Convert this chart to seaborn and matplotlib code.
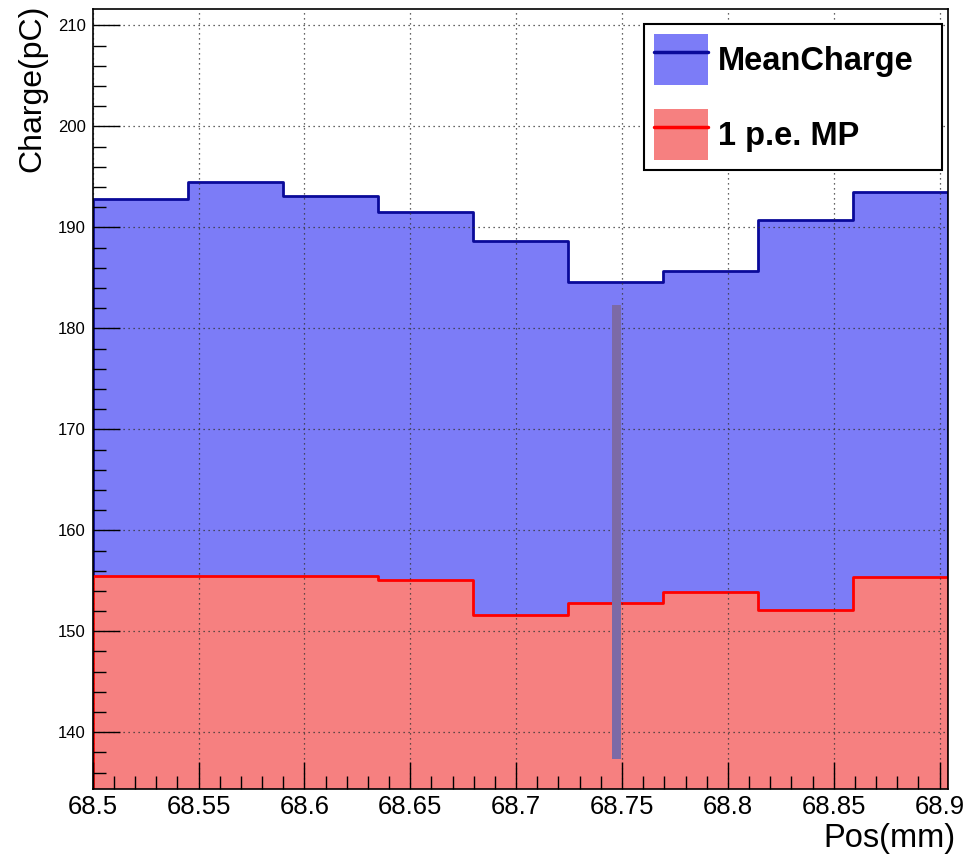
import matplotlib
matplotlib.use("Agg")
import matplotlib.pyplot as plt
import pandas as pd
import seaborn as sns
from matplotlib.patches import Patch
from matplotlib.lines import Line2D
from matplotlib.legend_handler import HandlerTuple
from matplotlib.ticker import MultipleLocator

# Scan positions (bin edges, mm) and per-bin charges (pC)
bin_edges = [68.5, 68.5449, 68.5898, 68.6347, 68.6796, 68.7244,
             68.7693, 68.8142, 68.8591, 68.904]
mean_charge = [192.8, 194.5, 193.15, 191.5, 188.65, 184.6, 185.7, 190.7, 193.5]
pe_mp = [155.5, 155.5, 155.45, 155.1, 151.65, 152.85, 153.85, 152.1, 155.35]

# Vertical marker band
marker_pos = 68.7475
marker_low = 137.4
marker_high = 182.35

series_labels = ["MeanCharge", "1 p.e. MP"]
x_ticks = [68.5, 68.55, 68.6, 68.65, 68.7, 68.75, 68.8, 68.85, 68.9]
x_tick_labels = ["68.5", "68.55", "68.6", "68.65", "68.7", "68.75", "68.8", "68.85", "68.9"]
y_ticks = [140, 150, 160, 170, 180, 190, 200, 210]
x_label = "Pos(mm)"
y_label = "Charge(pC)"

blue_fill = "#7c7cf7"
blue_line = "#0a0a99"
red_fill = "#f68080"
red_line = "#ff0000"
marker_color = "#7c6aa6"

sns.set_theme(style="white")
plt.rcParams["font.family"] = ["Liberation Sans", "DejaVu Sans"]
plt.rcParams["text.color"] = "black"
plt.rcParams["xtick.color"] = "black"
plt.rcParams["ytick.color"] = "black"
plt.rcParams["xtick.labelcolor"] = "black"
plt.rcParams["ytick.labelcolor"] = "black"

centers = [(a + b) / 2 for a, b in zip(bin_edges[:-1], bin_edges[1:])]
df = pd.DataFrame({"pos": centers, "mean": mean_charge, "mp": pe_mp})

fig = plt.figure(figsize=(9.67, 8.58), dpi=100)
ax = fig.add_axes([0.0959, 0.0804, 0.8845, 0.9088])

sns.histplot(data=df, x="pos", weights="mean", bins=bin_edges, element="step",
             fill=True, color=blue_fill, alpha=1, edgecolor=blue_line,
             linewidth=2.0, ax=ax)
sns.histplot(data=df, x="pos", weights="mp", bins=bin_edges, element="step",
             fill=True, color=red_fill, alpha=1, edgecolor=red_line,
             linewidth=2.0, ax=ax)

ax.bar([marker_pos], [marker_high - marker_low], bottom=[marker_low],
       width=0.0041, color=marker_color, zorder=4, linewidth=0)

ax.set_xlim(68.5, 68.904)
ax.set_ylim(134.38, 211.6)

ax.set_xticks(x_ticks)
ax.set_xticklabels(x_tick_labels, fontsize=18.5)
ax.set_yticks(y_ticks)
ax.set_yticklabels([str(t) for t in y_ticks], fontsize=12)
ax.xaxis.set_minor_locator(MultipleLocator(0.01))
ax.yaxis.set_minor_locator(MultipleLocator(2))

ax.tick_params(which="major", direction="in", length=19.5, width=1.0,
               color="black", bottom=True, left=True, top=False, right=False)
ax.tick_params(which="minor", direction="in", length=9.5, width=1.0,
               color="black", bottom=True, left=True, top=False, right=False)
ax.tick_params(axis="x", which="major", pad=4)
ax.tick_params(axis="y", which="major", pad=5)

ax.grid(True, which="major", linestyle=(0, (1, 3)), color="#333333", linewidth=0.9)
ax.set_axisbelow(False)

for s in ax.spines.values():
    s.set_color("black")
    s.set_linewidth(1.2)
    s.set_zorder(5)

ax.set_xlabel("")
ax.set_ylabel("")
fig.text(0.988, 0.013, x_label, ha="right", va="baseline", fontsize=23.5)
fig.text(0.033, 0.995, y_label, ha="center", va="top", rotation=90, fontsize=23)

handles = [
    (Patch(facecolor=blue_fill, edgecolor="none"), Line2D([], [], color=blue_line, lw=2.5)),
    (Patch(facecolor=red_fill, edgecolor="none"), Line2D([], [], color=red_line, lw=2.5)),
]
leg = ax.legend(handles, series_labels, handler_map={tuple: HandlerTuple(ndivide=1, pad=0)},
                loc="upper right", bbox_to_anchor=(0.6446, 0.7811, 0.3484, 0.2),
                mode="expand",
                prop={"weight": "bold", "size": 23.5},
                frameon=True, fancybox=False, framealpha=1, edgecolor="black",
                handlelength=1.65, handleheight=2.05, handletextpad=0.3,
                labelspacing=0.72, borderpad=0.3, borderaxespad=0)
leg.get_frame().set_linewidth(1.5)
leg.set_zorder(6)
for t in leg.get_texts():
    t.set_color("black")

fig.savefig("out.png", dpi=100)
